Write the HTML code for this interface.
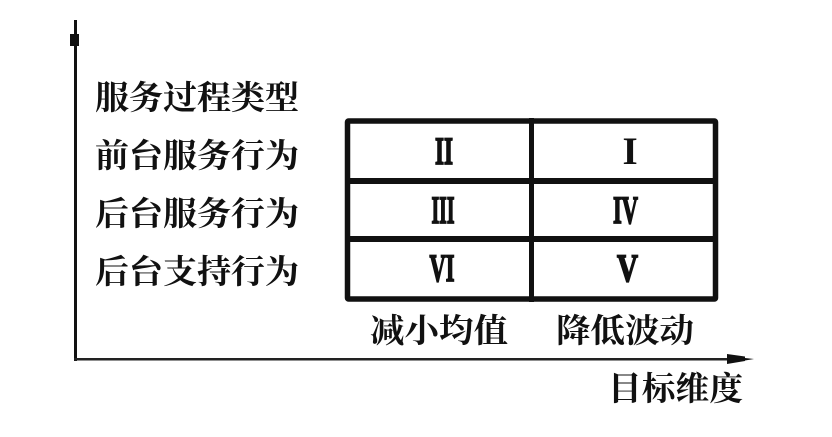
<!DOCTYPE html>
<html><head><meta charset="utf-8"><style>
html,body{margin:0;padding:0;background:#fff}
svg{display:block}
.c{font-family:"Liberation Serif","Noto Serif CJK SC",serif;font-size:33px;font-weight:700;fill:#111}
.r{font-family:"Liberation Serif",serif;font-size:39px;font-weight:700;fill:#111;stroke:#111;stroke-width:1.7px}
.n{font-family:"Liberation Serif",serif;font-size:39px;font-weight:700;fill:#111}
</style></head><body>
<svg width="832" height="437" viewBox="0 0 832 437" xmlns="http://www.w3.org/2000/svg">
<rect width="832" height="437" fill="#fff"/>
<rect x="74" y="20" width="3" height="341" fill="#111"/>
<rect x="70" y="34" width="9" height="12" fill="#111"/>
<rect x="74" y="358" width="670" height="2.5" fill="#222"/>
<polygon points="727,354 745,356.500 745,358 754,359 745,360.500 745,361 727,364" fill="#111"/>
<rect x="347.500" y="121" width="368" height="178" fill="none" stroke="#111" stroke-width="5.500" rx="1"/>
<rect x="345" y="178" width="373" height="6" fill="#111"/>
<rect x="345" y="236" width="373" height="6" fill="#111"/>
<rect x="529" y="118" width="5" height="184" fill="#111"/>
<text class="c" x="95" y="109" textLength="204" lengthAdjust="spacingAndGlyphs">服务过程类型</text>
<text class="c" x="95" y="167" textLength="204" lengthAdjust="spacingAndGlyphs">前台服务行为</text>
<text class="c" x="95" y="225" textLength="204" lengthAdjust="spacingAndGlyphs">后台服务行为</text>
<text class="c" x="95" y="283" textLength="204" lengthAdjust="spacingAndGlyphs">后台支持行为</text>
<text class="c" x="370" y="342" textLength="138" lengthAdjust="spacingAndGlyphs">减小均值</text>
<text class="c" x="556" y="342" textLength="138" lengthAdjust="spacingAndGlyphs">降低波动</text>
<text class="c" x="608" y="400" textLength="135" lengthAdjust="spacingAndGlyphs">目标维度</text>
<text class="r" x="435" y="164" textLength="18" lengthAdjust="spacingAndGlyphs">II</text>
<text class="n" x="622.500" y="164">I</text>
<text class="r" x="431.500" y="223" textLength="23" lengthAdjust="spacingAndGlyphs">III</text>
<text class="r" x="613" y="223" textLength="25" lengthAdjust="spacingAndGlyphs">IV</text>
<text class="r" x="429.500" y="281" textLength="25" lengthAdjust="spacingAndGlyphs">VI</text>
<text class="r" x="617" y="281" textLength="21" lengthAdjust="spacingAndGlyphs">V</text>
</svg>
</body></html>
